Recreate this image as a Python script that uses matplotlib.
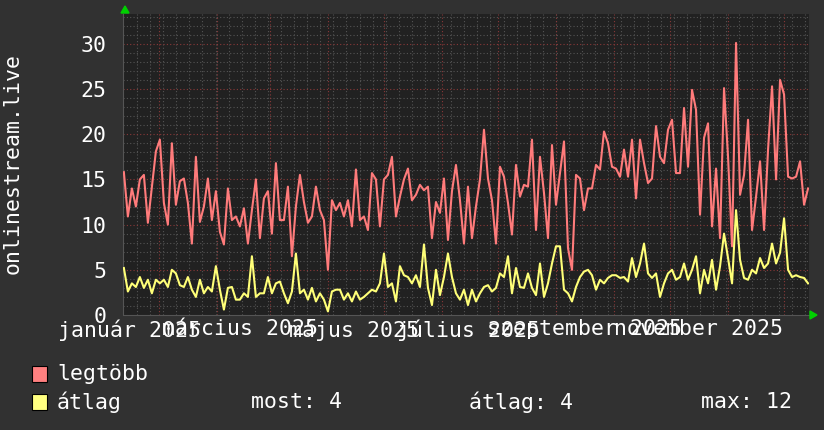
import numpy as np
import matplotlib
matplotlib.use("Agg")
import matplotlib.pyplot as plt
from matplotlib.patches import Rectangle, Polygon

# legtöbb (max) and átlag (avg) samples, one every ~2 days, Dec 2024 -> Dec 2025
legtobb = [15.8, 10.9, 14.0, 12.0, 15.0, 15.5, 10.2, 14.2, 18.1, 19.4, 12.4, 10.0, 19.0, 12.2, 14.8,
           15.1, 12.4, 7.9, 17.5, 10.3, 12.0, 15.1, 10.5, 13.7, 9.2, 7.8, 14.0, 10.5, 10.9,
           9.8, 11.8, 7.9, 11.6, 15.0, 8.5, 12.9, 13.7, 9.0, 16.8, 10.5, 10.5, 14.2, 6.5, 12.0,
           15.5, 12.5, 10.2, 10.9, 14.2, 11.6, 10.5, 5.0, 12.7, 11.6, 12.4, 10.9, 12.7, 9.8,
           16.1, 10.5, 10.9, 9.4, 15.7, 15.0, 9.8, 15.0, 15.5, 17.5, 10.9, 13.1, 15.0, 16.2, 12.7,
           13.3, 14.4, 13.8, 14.2, 8.5, 12.5, 11.3, 15.1, 8.3, 13.7, 16.6, 12.7, 7.9, 14.2,
           8.5, 12.0, 15.0, 20.5, 15.1, 12.7, 7.9, 16.4, 15.3, 12.4, 8.9, 16.6, 13.1, 14.4, 14.2,
           19.4, 9.4, 17.5, 13.5, 8.5, 18.8, 12.2, 15.7, 19.2, 7.4, 5.0, 15.5, 15.1, 11.6,
           14.0, 14.0, 16.6, 16.1, 20.3, 19.0, 16.4, 16.2, 15.3, 18.3, 15.3, 19.4, 12.9, 19.4,
           16.8, 14.6, 15.1, 20.9, 17.5, 16.8, 20.5, 21.6, 15.7, 15.7, 22.9, 16.4, 24.9, 22.7,
           11.1, 19.6, 21.2, 9.8, 16.2, 8.5, 25.1, 17.5, 7.6, 30.1, 13.3, 15.5, 21.6, 9.4,
           13.1, 17.0, 9.4, 18.3, 25.3, 15.0, 26.0, 24.4, 15.3, 15.1, 15.3, 17.0, 12.2, 14.0]
atlag = [5.2, 2.6, 3.5, 3.1, 4.2, 3.0, 3.9, 2.4, 3.9, 3.5, 3.9, 3.1, 5.0, 4.6, 3.3,
         3.1, 4.2, 2.8, 2.0, 3.9, 2.4, 3.1, 2.6, 5.4, 2.8, 0.6, 3.0, 3.1, 1.7,
         1.7, 2.4, 2.0, 6.5, 2.0, 2.4, 2.4, 4.2, 2.4, 3.5, 3.7, 2.4, 1.3, 2.6, 6.8,
         2.4, 2.8, 1.7, 3.0, 1.5, 2.4, 1.7, 0.4, 2.6, 2.8, 2.8, 1.7, 2.4, 1.5,
         2.6, 1.7, 2.0, 2.4, 2.8, 2.6, 3.5, 6.8, 3.1, 3.5, 1.5, 5.4, 4.4, 4.2, 3.5,
         4.4, 3.1, 7.8, 3.0, 1.1, 5.0, 2.2, 4.2, 6.8, 4.2, 2.4, 1.7, 2.8, 1.1,
         2.8, 1.5, 2.4, 3.1, 3.3, 2.6, 3.0, 4.6, 4.2, 6.5, 2.4, 5.2, 3.1, 3.0, 4.6,
         3.0, 2.2, 5.7, 2.0, 3.5, 5.7, 7.6, 7.6, 2.8, 2.4, 1.5, 3.1, 4.2, 4.8,
         5.0, 4.4, 2.8, 3.9, 3.5, 4.1, 4.4, 4.4, 4.1, 4.2, 3.7, 6.3, 4.2, 5.7,
         7.9, 4.6, 4.1, 4.6, 2.0, 3.5, 4.6, 5.0, 3.9, 4.2, 5.7, 3.9, 5.0, 6.5,
         2.4, 5.0, 3.5, 6.1, 2.8, 5.4, 9.0, 6.3, 3.5, 11.6, 6.1, 4.1, 3.9, 5.0,
         4.6, 6.3, 5.2, 5.7, 7.9, 5.7, 6.9, 10.7, 5.0, 4.2, 4.4, 4.2, 4.1, 3.5]

month_starts = [0, 31, 59, 90, 120, 151, 181, 212, 243, 273, 304, 334]  # day of 2025
label_months = [0, 59, 120, 181, 243, 304]
label_texts = ['január 2025', 'március 2025', 'május 2025', 'július 2025',
               'szeptember 2025', 'november 2025']
stats = ['most: 4', 'átlag: 4', 'max: 12']

BG = '#313131'
CANVAS = '#212121'
RED = '#ff7b7b'
YEL = '#ffff78'
FS = 15.5

plt.rcParams['font.family'] = 'DejaVu Sans Mono'
fig = plt.figure(figsize=(8.24, 4.30), dpi=100, facecolor=BG)
W, H = 824, 430
x0, x1, y0, y1 = 123.5, 809, 14, 315
ax = fig.add_axes([x0 / W, 1 - y1 / H, (x1 - x0) / W, (y1 - y0) / H])
ax.set_facecolor(CANVAS)

t0, t1 = -19.1, 347.4
days = np.linspace(-18.9, 346.9, len(legtobb))
ax.set_xlim(t0, t1)
ax.set_ylim(0, 33.3)

# grid: weekly / unit minor, monthly / 5-unit major
for d in np.arange(-11.9, t1, 7):
    ax.axvline(d, color='#545454', lw=0.8, ls=(0, (1, 2)), zorder=1)
for v in range(1, 34):
    if v % 5:
        ax.axhline(v, color='#545454', lw=0.8, ls=(0, (1, 2)), zorder=1)
for d in month_starts:
    ax.axvline(d, color='#8a3838', lw=0.8, ls=(0, (1, 2)), zorder=2)
for v in range(5, 35, 5):
    ax.axhline(v, color='#8a3838', lw=0.8, ls=(0, (1, 2)), zorder=2)

ax.plot(days, legtobb, color=RED, lw=1.5, zorder=5)
ax.plot(days, atlag, color=YEL, lw=1.5, zorder=6)

for s in ['top', 'right']:
    ax.spines[s].set_visible(False)
for s in ['left', 'bottom']:
    ax.spines[s].set_color('#555555')
    ax.spines[s].set_linewidth(0.8)

ax.set_yticks(range(0, 35, 5))
ax.tick_params(axis='y', length=0, pad=12, labelsize=FS, labelcolor='white')
ax.set_xticks([d - 15.8 for d in label_months])
ax.set_xticklabels(label_texts)
ax.tick_params(axis='x', length=0, pad=3, labelsize=FS, labelcolor='white')

fig.text(12.5 / W, 1 - 164 / H, 'onlinestream.live', rotation=90, color='white',
         fontsize=FS, ha='center', va='center')

# green arrows
fig.patches.append(Polygon([[121 / W, 1 - 13 / H], [129 / W, 1 - 13 / H], [125 / W, 1 - 6 / H]],
                           closed=True, color='#00d000', transform=fig.transFigure, figure=fig))
fig.patches.append(Polygon([[810 / W, 1 - 311 / H], [810 / W, 1 - 319 / H], [817 / W, 1 - 315 / H]],
                           closed=True, color='#00d000', transform=fig.transFigure, figure=fig))

# legend
for yc, col, name in [(374, '#ff8080', 'legtöbb'), (402, '#ffff80', 'átlag')]:
    fig.patches.append(Rectangle((32 / W, 1 - (yc + 8) / H), 15 / W, 16 / H, facecolor=col,
                                 edgecolor='black', lw=0.8, transform=fig.transFigure, figure=fig))
    fig.text(57 / W, 1 - yc / H, name, color='white', fontsize=FS, va='center', ha='left')
for xs, s in zip([251, 469, 701], stats):
    fig.text(xs / W, 1 - 402 / H, s, color='white', fontsize=FS, va='center', ha='left')

fig.savefig('out.png', dpi=100, facecolor=BG)
